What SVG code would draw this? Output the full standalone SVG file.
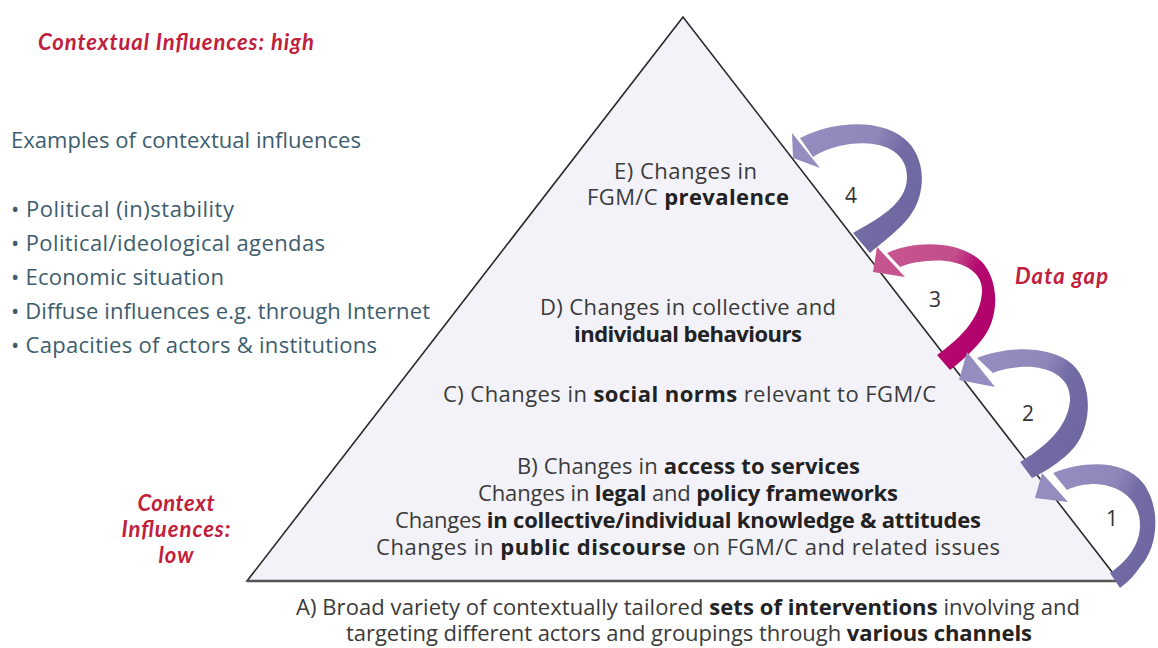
<svg xmlns="http://www.w3.org/2000/svg" width="1158" height="648" viewBox="0 0 1158 648">
<style>
.t{font-family:"Open Sans","Noto Sans","DejaVu Sans",sans-serif;font-size:22px;fill:#3a3a3a}
.c{text-anchor:middle}
.b{font-weight:700;fill:#222}
.l{font-family:"Open Sans","Noto Sans","DejaVu Sans",sans-serif;font-size:22px;fill:#3d5d6e}
.r{font-family:Lato,"Open Sans",sans-serif;font-size:22px;font-weight:700;font-style:italic;fill:#c0203c}
.n{font-family:"Open Sans","Noto Sans",sans-serif;font-size:21px;fill:#333;text-anchor:middle}
</style>
<defs>
<linearGradient id="gp" x1="0" y1="0.1" x2="1" y2="0.6">
<stop offset="0" stop-color="#958dbf"/><stop offset="0.5" stop-color="#8f87ba"/><stop offset="0.7" stop-color="#736ba4"/><stop offset="1" stop-color="#6f67a1"/>
</linearGradient>
<linearGradient id="gm" x1="0" y1="0.1" x2="1" y2="0.6">
<stop offset="0" stop-color="#c6558f"/><stop offset="0.5" stop-color="#c24e8a"/><stop offset="0.7" stop-color="#b4096f"/><stop offset="1" stop-color="#b0006a"/>
</linearGradient>
</defs>
<rect width="1158" height="648" fill="#ffffff"/>

<g id="triangle">
<polygon points="683,17 247,581 1119,581" fill="#f3f2f8" stroke="#2a2a2a" stroke-width="1.6" stroke-linejoin="miter"/>
<line x1="247" y1="581" x2="1119" y2="581" stroke="#555" stroke-width="2.5"/>
</g>

<g id="context-high">
<text class="r" x="38" y="50" textLength="276" lengthAdjust="spacing">Contextual Influences: high</text>
</g>

<g id="examples">
<text class="l" x="11" y="148" textLength="350" lengthAdjust="spacing">Examples of contextual influences</text>
<text class="l" x="11" y="217" textLength="223" lengthAdjust="spacing">• Political (in)stability</text>
<text class="l" x="11" y="251" textLength="314" lengthAdjust="spacing">• Political/ideological agendas</text>
<text class="l" x="11" y="285" textLength="213" lengthAdjust="spacing">• Economic situation</text>
<text class="l" x="11" y="319" textLength="419" lengthAdjust="spacing">• Diffuse influences e.g. through Internet</text>
<text class="l" x="11" y="353" textLength="366" lengthAdjust="spacing">• Capacities of actors &amp; institutions</text>
</g>

<g id="context-low">
<text class="r c" x="176" y="511" textLength="77" lengthAdjust="spacing">Context</text>
<text class="r c" x="176" y="537" textLength="109" lengthAdjust="spacing">Influences:</text>
<text class="r c" x="176" y="563" textLength="35" lengthAdjust="spacing">low</text>
</g>

<g id="level-E">
<text class="t c" x="685.5" y="179" textLength="143" lengthAdjust="spacing">E) Changes in</text>
<text class="t c" x="688" y="205" textLength="202" lengthAdjust="spacing">FGM/C <tspan class="b">prevalence</tspan></text>
</g>

<g id="level-D">
<text class="t c" x="688" y="315" textLength="296" lengthAdjust="spacing">D) Changes in collective and</text>
<text class="t c b" x="688" y="342" textLength="228" lengthAdjust="spacing">individual behaviours</text>
</g>

<g id="level-C">
<text class="t c" x="689.5" y="402" textLength="493" lengthAdjust="spacing">C) Changes in <tspan class="b">social norms</tspan> relevant to FGM/C</text>
</g>

<g id="level-B">
<text class="t c" x="688.5" y="474" textLength="343" lengthAdjust="spacing">B) Changes in <tspan class="b">access to services</tspan></text>
<text class="t c" x="688" y="501" textLength="420" lengthAdjust="spacing">Changes in <tspan class="b">legal</tspan> and <tspan class="b">policy frameworks</tspan></text>
<text class="t c" x="688" y="528" textLength="586" lengthAdjust="spacing">Changes <tspan class="b">in collective/individual knowledge &amp; attitudes</tspan></text>
<text class="t c" x="688" y="555" textLength="624" lengthAdjust="spacing">Changes in <tspan class="b">public discourse</tspan> on FGM/C and related issues</text>
</g>

<g id="level-A">
<text class="t c" x="688" y="615" textLength="784" lengthAdjust="spacing">A) Broad variety of contextually tailored <tspan class="b">sets of interventions</tspan> involving and</text>
<text class="t c" x="689" y="641" textLength="686" lengthAdjust="spacing">targeting different actors and groupings through <tspan class="b">various channels</tspan></text>
</g>

<g id="data-gap">
<text class="r" x="1015" y="284" textLength="93" lengthAdjust="spacing">Data gap</text>
</g>

<g id="connectors">
<g id="arrow-4">
<path d="M800,138 C835,120 885,118 908,142 C928,163 926,200 905,222 C893,235 880,244 870,253 L853,233 C875,220 907,205 907,177 C907,150 880,140 850,144 C835,146 822,151 813,157 Z" fill="url(#gp)"/>
<polygon points="792,133 793,158 820,168" fill="#958dbf"/>
<text class="n" x="851" y="203">4</text>
</g>
<g id="arrow-3">
<path d="M887,253 C915,240 960,240 982,262 C1000,282 1000,320 980,342 C970,354 960,362 950,370 L937,355 C955,342 982,320 982,290 C982,268 955,258 927,261 C915,262 907,264 900,267 Z" fill="url(#gm)"/>
<polygon points="877,247 873,272 905,277" fill="#c6558f"/>
<text class="n" x="935" y="307">3</text>
</g>
<g id="arrow-2">
<path d="M977,358 C1005,346 1050,345 1072,364 C1092,382 1092,420 1078,442 C1068,458 1045,472 1032,478 L1020,462 C1040,450 1068,430 1070,400 C1071,375 1045,365 1020,367 C1008,368 1000,370 993,373 Z" fill="url(#gp)"/>
<polygon points="967,352 959,380 995,387" fill="#958dbf"/>
<text class="n" x="1028" y="421">2</text>
</g>
<g id="arrow-1">
<path d="M1053,473 C1085,460 1125,460 1143,483 C1160,505 1160,545 1140,567 C1135,575 1128,582 1120,588 L1110,573 C1120,566 1140,550 1140,525 C1140,500 1120,485 1095,484 C1085,484 1075,486 1067,490 Z" fill="url(#gp)"/>
<polygon points="1042,473 1035,498 1068,502" fill="#958dbf"/>
<text class="n" x="1112" y="526">1</text>
</g>
</g>
</svg>
